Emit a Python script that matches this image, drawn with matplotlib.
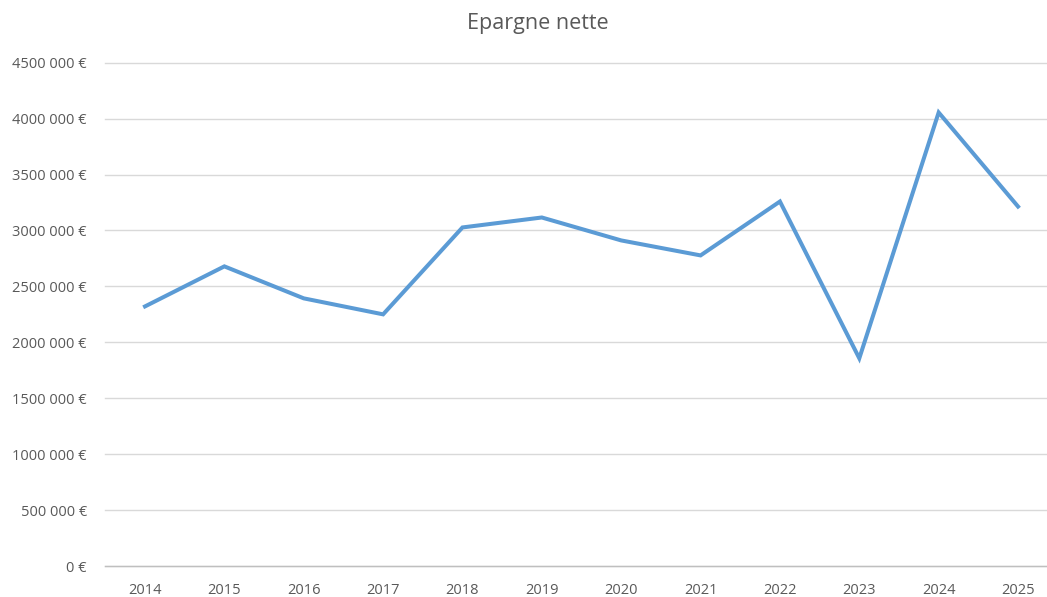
import matplotlib
matplotlib.use("Agg")
import matplotlib.pyplot as plt

years = ["2014", "2015", "2016", "2017", "2018", "2019", "2020", "2021", "2022", "2023", "2024", "2025"]
epargne = [2321000, 2679000, 2393000, 2250000, 3027000, 3116000, 2911000, 2777000, 3259000, 1857000, 4055000, 3214000]
ytick_values = [0, 500000, 1000000, 1500000, 2000000, 2500000, 3000000, 3500000, 4000000, 4500000]
ytick_labels = ["0 €", "500 000 €", "1000 000 €", "1500 000 €", "2000 000 €", "2500 000 €",
                "3000 000 €", "3500 000 €", "4000 000 €", "4500 000 €"]
title = "Epargne nette"

plt.rcParams['font.family'] = ['Open Sans', 'DejaVu Sans']
W, H = 1047, 597
fig = plt.figure(figsize=(W / 100, H / 100), dpi=100)
left_px, right_px = 105, 1047
bottom_px, top_px = 566, 62.7
ax = fig.add_axes([left_px / W, (H - bottom_px) / H, (right_px - left_px) / W, (bottom_px - top_px) / H])

x = list(range(len(years)))
ax.plot(x, epargne, color="#5B9BD5", linewidth=2.9, solid_joinstyle="miter", zorder=3)

ax.set_xlim(-0.504, 11.365)
ax.set_ylim(0, 4500000)
ax.set_xticks(x)
ax.set_xticklabels(years)
ax.set_yticks(ytick_values)
ax.set_yticklabels(ytick_labels)

for s in ["top", "right", "left"]:
    ax.spines[s].set_visible(False)
ax.spines["bottom"].set_color("#bfbfbf")
ax.spines["bottom"].set_linewidth(1.0)

ax.grid(axis="y", color="#d9d9d9", linewidth=1.0)
ax.set_axisbelow(True)
for gl in ax.get_ygridlines():
    gl.set_clip_on(False)

ax.tick_params(axis="both", length=0, labelcolor="#595959", labelsize=10.5)
ax.tick_params(axis="y", pad=13)
ax.tick_params(axis="x", pad=12)

fig.text(538 / W, 1 - 24 / H, title, ha="center", va="center", fontsize=15.5, color="#595959")

fig.savefig("out.png", dpi=100, facecolor="white")
